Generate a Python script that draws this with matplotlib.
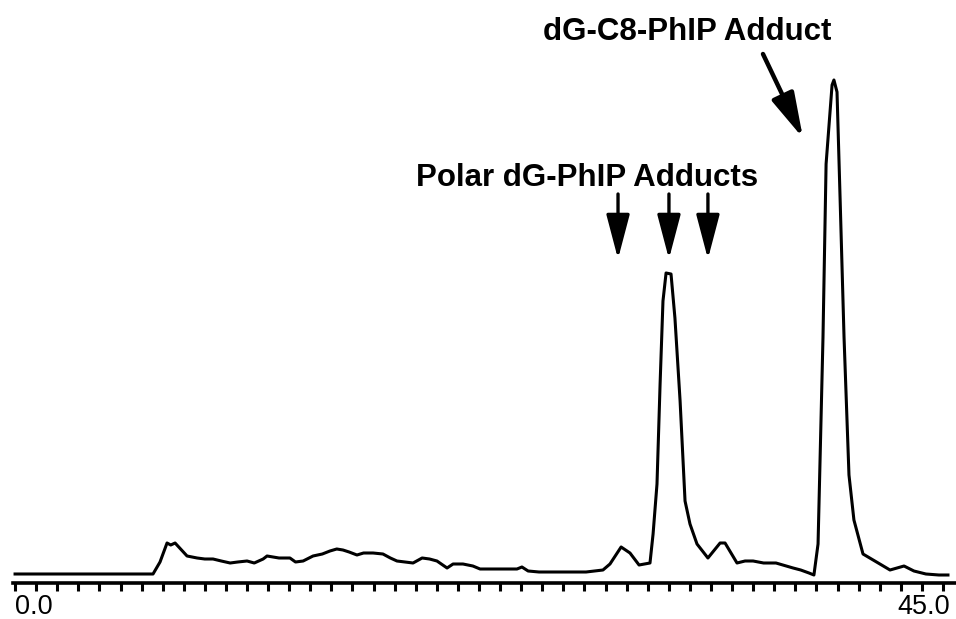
import numpy as np
import matplotlib
matplotlib.use('Agg')
import matplotlib.pyplot as plt
import matplotlib.transforms as mtransforms

plt.rcParams['font.family'] = ['Liberation Sans', 'DejaVu Sans']

# retention time (min) and detector response
time = [0, 6.69, 7.03, 7.37, 7.55, 7.76, 8.34, 8.83, 9.20, 9.60,
        10.0, 10.43, 10.8, 11.25, 11.6, 12.03, 12.22, 12.8, 13.33, 13.6,
        13.97, 14.45, 14.9, 15.27, 15.6, 15.90, 16.2, 16.58, 16.9, 17.36,
        17.84, 18.2, 18.52, 19.30, 19.74, 20.1, 20.46, 20.95, 21.24, 21.72,
        22.2, 22.55, 23.37, 24.34, 24.58, 24.88, 25.41, 27.69, 28.51, 28.85,
        29.39, 29.82, 30.26, 30.79, 30.94, 31.13, 31.28, 31.42, 31.57, 31.81,
        32.00, 32.25, 32.49, 32.73, 33.07, 33.60, 34.19, 34.43, 35.01, 35.4,
        35.79, 36.3, 36.90, 37.73, 38.1, 38.50, 38.74, 38.94, 39.18, 39.33,
        39.62, 39.71, 39.86, 40.01, 40.20, 40.44, 40.68, 41.12, 41.94, 42.43,
        43.11, 43.59, 44.17, 44.80, 45.24]
signal = [0, 0, 12, 31, 29, 31, 18, 16, 15, 15,
          13, 11, 12, 13, 11, 15, 18, 16, 16, 12,
          13, 18, 20, 23, 25, 24, 22, 19, 21, 21,
          20, 16, 13, 11, 16, 15, 13, 6, 10, 10,
          8, 5, 5, 5, 7, 3, 2, 2, 4, 10,
          27, 21, 9, 11, 40, 90, 190, 273, 301, 300,
          256, 173, 73, 50, 30, 16, 31, 31, 11, 13,
          13, 11, 11, 6, 4, 1, -1, 30, 237, 410,
          489, 494, 482, 375, 237, 99, 54, 20, 10, 4,
          8, 3, 0, -1, -1]

tick_pos = np.linspace(0, 45, 45)
tick_text = ['0.0', '45.0']

polar_arrows = [29.24, 31.71, 33.60]

fig = plt.figure(figsize=(9.56, 6.19), dpi=100)
ax = fig.add_axes([13 / 956, 36 / 619, 1 - 13 / 956, 1 - 36 / 619])

ax.plot(time, signal, color='black', lw=2.2, solid_joinstyle='round')

ax.set_xlim(-0.1, 45.63)
ax.set_ylim(-9, 574)

for s in ['left', 'top', 'right']:
    ax.spines[s].set_visible(False)
ax.spines['bottom'].set_linewidth(2.6)
ax.set_yticks([])

ax.set_xticks(tick_pos)
labels = [''] * len(tick_pos)
labels[0] = tick_text[0]
labels[-1] = tick_text[1]
ax.set_xticklabels(labels, fontsize=19.5)
ax.tick_params(axis='x', direction='out', length=6, width=2.2, pad=2)
xl = ax.get_xticklabels()
xl[0].set_horizontalalignment('left')
xl[-1].set_horizontalalignment('right')
xl[-1].set_transform(xl[-1].get_transform() +
                     mtransforms.ScaledTranslation(7 / 100, 0, fig.dpi_scale_trans))

# annotations
ax.text(27.74, 388, 'Polar dG-PhIP Adducts', fontsize=22.5, fontweight='bold',
        ha='center', va='baseline')
ax.text(32.58, 534, 'dG-C8-PhIP Adduct', fontsize=22.5, fontweight='bold',
        ha='center', va='baseline')

style = '-|>,head_length=1.37,head_width=0.36'
for t in polar_arrows:
    ax.annotate('', xy=(t, 315), xytext=(t, 380),
                arrowprops=dict(arrowstyle=style, color='black', lw=2.4,
                                mutation_scale=20, shrinkA=0, shrinkB=0))
ax.annotate('', xy=(38.21, 436), xytext=(36.27, 520),
            arrowprops=dict(arrowstyle=style, color='black', lw=3.2,
                            mutation_scale=20, shrinkA=0, shrinkB=0))

fig.savefig('out.png', dpi=100)
